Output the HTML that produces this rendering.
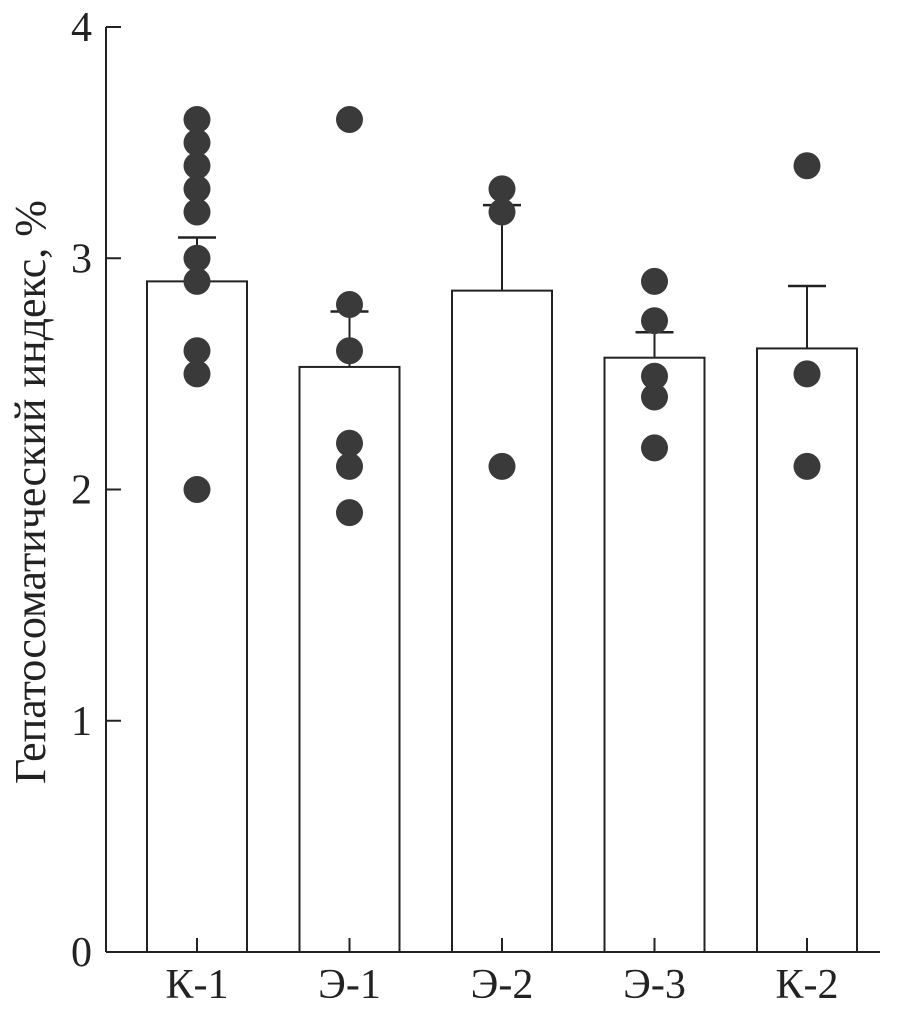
<!DOCTYPE html>
<html><head><meta charset="utf-8"><style>body{margin:0;background:#fff}svg{display:block}text{font-family:"Liberation Serif","DejaVu Serif",serif;fill:#222}</style></head>
<body>
<svg id="chart" width="903" height="1012"></svg>
<script>
const categories=["К-1","Э-1","Э-2","Э-3","К-2"];
const means=[2.9,2.53,2.86,2.57,2.61];
const errors=[0.19,0.24,0.37,0.11,0.27];
const points=[[3.6,3.5,3.4,3.3,3.2,3.0,2.9,2.6,2.5,2.0],[3.6,2.8,2.6,2.2,2.1,1.9],[3.3,3.2,2.1],[2.9,2.73,2.49,2.4,2.18],[3.4,2.5,2.1]];
const yTicks=[0,1,2,3,4];
const NS="http://www.w3.org/2000/svg";
const svg=document.getElementById('chart');
const y0=952,y4=27,axisX=106;
const y=v=>y0-(y0-y4)*v/4;
const xc=i=>197+i*152.5;
function el(t,a,p){const e=document.createElementNS(NS,t);for(const k in a)e.setAttribute(k,a[k]);(p||svg).appendChild(e);return e;}
const ax=el('line',{x1:axisX,y1:y(4),x2:axisX,y2:y0,stroke:'#222','stroke-width':2});


const bx=el('line',{x1:axisX,y1:y0,x2:880,y2:y0,stroke:'#222','stroke-width':2});


yTicks.forEach(t=>{
const l=el('line',{x1:axisX,y1:y(t),x2:axisX+15,y2:y(t),stroke:'#222','stroke-width':2});


const tx=el('text',{x:92,y:y(t)+14,'text-anchor':'end','font-size':42});tx.textContent=t;


});
categories.forEach((c,i)=>{
const cx=xc(i);
const tk=el('line',{x1:cx,y1:y0,x2:cx,y2:y0-14,stroke:'#222','stroke-width':2});


const eb=el('line',{x1:cx,y1:y(means[i]),x2:cx,y2:y(means[i]+errors[i]),stroke:'#222','stroke-width':2});


const cap=el('line',{x1:cx-19,y1:y(means[i]+errors[i]),x2:cx+19,y2:y(means[i]+errors[i]),stroke:'#222','stroke-width':2.5});


const b=el('rect',{x:cx-50,y:y(means[i]),width:100,height:y0-y(means[i]),fill:'none',stroke:'#222','stroke-width':2});


points[i].forEach(v=>{
const d=el('circle',{cx:cx,cy:y(v),r:13.5,fill:'#3a3a3a'});


});
const tx=el('text',{x:cx,y:998,'text-anchor':'middle','font-size':42});tx.textContent=c;


});
const yt=el('text',{x:0,y:0,'text-anchor':'middle','font-size':44,'font-family':'Liberation Serif, DejaVu Serif, serif',transform:'translate(45,492) rotate(-90)'});
yt.textContent='Гепатосоматический индекс, %';


</script>
</body></html>
